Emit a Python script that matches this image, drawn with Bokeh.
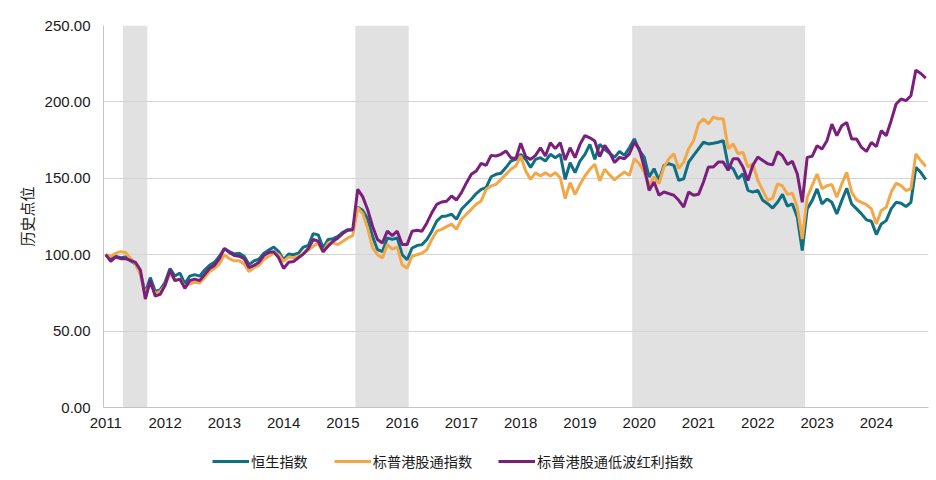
import pandas as pd
from bokeh.plotting import figure
from bokeh.layouts import column
from bokeh.models import (ColumnDataSource, FixedTicker, PrintfTickFormatter,
                          Legend, LegendItem, Range1d)
from bokeh.embed import file_html
from bokeh.resources import INLINE

# ---------------- data ----------------
series_names = ["恒生指数", "标普港股通指数", "标普港股通低波红利指数"]

hsi = [100, 97.5, 99, 98, 98.5, 96, 94, 88, 75, 85, 76, 77,
       82, 91, 86, 88, 81, 86, 87, 86, 90, 93, 95, 99,
       104, 102, 100.5, 101, 99, 93.5, 96, 97, 101, 103, 105, 102,
       96.7, 100.4, 100, 101, 105, 106, 113.8, 113, 104.4, 110, 110.5, 112,
       114.7, 116.4, 116.4, 131, 129, 123.5, 112, 103.3, 102, 111, 110, 111,
       100, 96.7, 104.4, 106, 106.6, 110, 115.4, 122,
       125, 125.4, 126.5, 123.2, 129.7, 133, 136.3, 140, 142.8, 143.9, 151, 152.6,
       153.3, 157, 161.3, 162.4, 165.7, 162.4, 157, 162.4, 163.5, 161.3, 165.7, 163.5,
       165.7, 149.3, 160.2, 153.7, 161.3, 165.7, 172.2, 162.4, 172.2, 169, 166.4, 163.7,
       167.5,
       165, 170, 175.8, 168.2, 163.9, 150.8, 156.3, 148.6, 158.5, 159.5, 158.5, 148.6,
       149.7, 160.6, 165, 169.3, 173.6, 172.5, 173, 173.6, 174.7, 158.5, 156.3, 149.7,
       153, 142.1, 141, 142.1, 135.6, 133.4,
       130.5, 134.3, 139.5, 131.8, 133.2, 124.5, 102.7, 130, 135.4, 143.1, 133.2, 136.5,
       134.3, 126.7, 135.4, 143.5, 133.2, 130, 126.7, 122.8, 121.9, 113.2, 120.1, 122.3,
       130, 134.3, 133.7, 131.5, 134.3, 157.2, 153.9, 149.1]

hk_connect = [100, 99, 101, 102, 101.5, 97.5, 94, 87, 74, 81, 74.5, 76,
              80, 88, 83, 84, 79, 81, 82, 81.5, 85, 89, 91, 94,
              100, 97.5, 96, 96, 94, 89, 91.5, 93, 97, 99, 101, 100,
              95.6, 98.5, 98, 99, 101, 103, 105.5, 107.7, 101.5, 107.7, 107.7, 106.6,
              108.8, 111, 112.5, 130.7, 127, 117.5, 104.4, 100, 97.8, 106.6, 103.7, 105,
              93.4, 91.2, 99, 100, 101, 103.3, 110, 115.4,
              116.6, 118.4, 120, 116.6, 123.2, 126.5, 129.7, 133, 135.2, 142.8, 145, 146,
              149.3, 152.6, 155.9, 158, 164.6, 154.8, 149.3, 153.7, 151.5, 153.7, 151.5, 153.7,
              150.4, 136.7, 147.2, 139.5, 146, 151.5, 155.9, 159.2, 148.3, 155.9, 152.2, 149,
              151.7,
              154.1, 151.9, 162.8, 159.5, 154.1, 145.4, 151, 146.5, 157.4, 162.8, 166.1, 156.3,
              160.6, 169.3, 174.7, 185.6, 188.9, 185.6, 190, 188.9, 188.9, 169.3, 172.5, 166.1,
              167.1, 157.4, 159.5, 148.6, 142.1, 135.6,
              137, 146.4, 145, 139.5, 140.2, 131, 110.3, 137.6, 145.2, 152.8, 143.1, 145.2,
              145.9, 137.6, 146.3, 153.9, 140.9, 135.9, 134.3, 132.8, 130, 120.1, 128.9, 131,
              140.9, 146.8, 145.2, 142, 143.1, 166, 161.6, 157.7]

low_vol_div = [100, 95.6, 98.5, 97.4, 97.5, 96.3, 95, 90, 71, 83, 73, 74,
               80, 90, 83, 84, 78, 83, 84, 83, 87, 91, 93, 97.5,
               104, 101.5, 99.5, 99, 97.5, 91.6, 93, 95, 99.5, 101.5, 102, 98,
               91, 95, 95.6, 98, 100.4, 104, 110, 108.8, 102, 105.5, 108.8, 111,
               114, 116, 116.4, 142.8, 138, 129.6, 118.6, 110, 107.7, 115.4, 112.5, 115.4,
               106.6, 106.6, 115.4, 116, 115.4, 120.8, 127.4, 132.9,
               134.5, 135, 138.4, 135.8, 140.6, 147, 152.6, 154.8, 159.8, 158.5, 165, 164.6,
               165.7, 167.9, 163.5, 162.9, 172.9, 164.2, 162.4, 165, 170, 164.6, 173.3, 169.4,
               173.3, 162, 170, 163.5, 172.2, 178, 176.5, 174.4, 164.2, 171.6, 167, 160.3,
               163.7,
               162.8, 166, 173.6, 169.3, 157.4, 142.1, 147.6, 138.9, 141, 140, 138.9, 135.6,
               131.2, 141, 138.9, 139.5, 147.6, 157.4, 157.4, 160.6, 160.6, 155.2, 162.8, 162.8,
               157.4, 148.6, 158.5, 163.9, 161.7, 159.5,
               158.8, 167.4, 164.8, 159, 161.1, 152.8, 134.3, 163.7, 164.4, 171.3, 169.2, 174.6,
               185.5, 177.9, 184.4, 186.6, 175.7, 175.7, 170.2, 167.6, 173.5, 170.7, 181.2, 177.9,
               187.7, 198.6, 201.9, 200.8, 204, 220.8, 218.6, 215.6]

# shaded periods (fractional years)
shade_start = [2011.29, 2015.21, 2019.88]
shade_end = [2011.70, 2016.11, 2022.80]

year_ticks = list(range(2011, 2025))
y_ticks = [0, 50, 100, 150, 200, 250]

# monthly dates -> fractional years
dates = pd.date_range("2011-01-01", periods=len(hsi), freq="MS")
xs = [d.year + (d.month - 1) / 12.0 for d in dates]

src = ColumnDataSource(dict(x=xs, hsi=hsi, hk=hk_connect, lv=low_vol_div))
shade_src = ColumnDataSource(dict(left=shade_start, right=shade_end,
                                  bottom=[0] * len(shade_start),
                                  top=[250] * len(shade_start)))

# ---------------- main figure ----------------
FONT = "Liberation Sans"
CJK = "Noto Sans CJK SC"
colors = ["#106f82", "#f2a849", "#7a1f7c"]
cols = ["hsi", "hk", "lv"]

p = figure(width=929, height=440, output_backend="svg", toolbar_location=None,
           x_range=Range1d(2010.961, 2024.88), y_range=Range1d(0, 250),
           min_border_left=103, min_border_right=1, min_border_top=25,
           min_border_bottom=33)
p.outline_line_color = None
p.background_fill_color = "white"

p.quad(left="left", right="right", bottom="bottom", top="top", source=shade_src,
       fill_color="#e1e1e1", line_color=None, level="image")

for c, col in zip(colors, cols):
    p.line("x", col, source=src, line_color=c, line_width=3)

# grid
p.xgrid.grid_line_color = None
p.ygrid.grid_line_color = "#d4d4d4"
p.ygrid.grid_line_width = 1
p.ygrid.ticker = FixedTicker(ticks=y_ticks)

# axes
p.xaxis.ticker = FixedTicker(ticks=year_ticks)
p.xaxis.major_label_overrides = {y: str(y) for y in year_ticks}
p.yaxis.ticker = FixedTicker(ticks=y_ticks)
p.yaxis.formatter = PrintfTickFormatter(format="%.2f")
for ax in (p.xaxis[0], p.yaxis[0]):
    ax.axis_line_color = "#c4c4c4"
    ax.axis_line_width = 1
    ax.major_tick_line_color = None
    ax.minor_tick_line_color = None
    ax.major_tick_out = 0
    ax.major_tick_in = 0
    ax.major_label_text_font = FONT
    ax.major_label_text_font_size = "15px"
    ax.major_label_text_color = "#1a1a1a"
p.xaxis.major_label_standoff = 10
p.yaxis.major_label_standoff = 13
p.yaxis.axis_label = "历史点位"
p.yaxis.axis_label_text_font = CJK
p.yaxis.axis_label_text_font_size = "15px"
p.yaxis.axis_label_text_font_style = "normal"
p.yaxis.axis_label_text_color = "#1a1a1a"
p.yaxis.axis_label_standoff = 5

# ---------------- legend strip ----------------
leg = figure(width=929, height=36, output_backend="svg", toolbar_location=None,
             x_range=Range1d(0, 1), y_range=Range1d(0, 1),
             x_axis_type=None, y_axis_type=None,
             min_border_left=0, min_border_right=0, min_border_top=0,
             min_border_bottom=0)
leg.outline_line_color = None
leg.xgrid.visible = False
leg.ygrid.visible = False
items = []
for name, c, col in zip(series_names, colors, cols):
    r = leg.line("x", col, source=src, line_color=c, line_width=3)
    items.append(LegendItem(label=name, renderers=[r]))

legend = Legend(items=items, orientation="horizontal", location=(109, 5),
                padding=0, margin=0, spacing=26, glyph_width=37, glyph_height=20,
                label_standoff=2, label_height=20,
                label_text_font=CJK, label_text_font_size="14.2px",
                label_text_color="#1a1a1a",
                border_line_color=None, background_fill_alpha=0)
leg.add_layout(legend, "center")

layout = column(p, leg, spacing=0)
open("out.html", "w").write(file_html(layout, INLINE))
